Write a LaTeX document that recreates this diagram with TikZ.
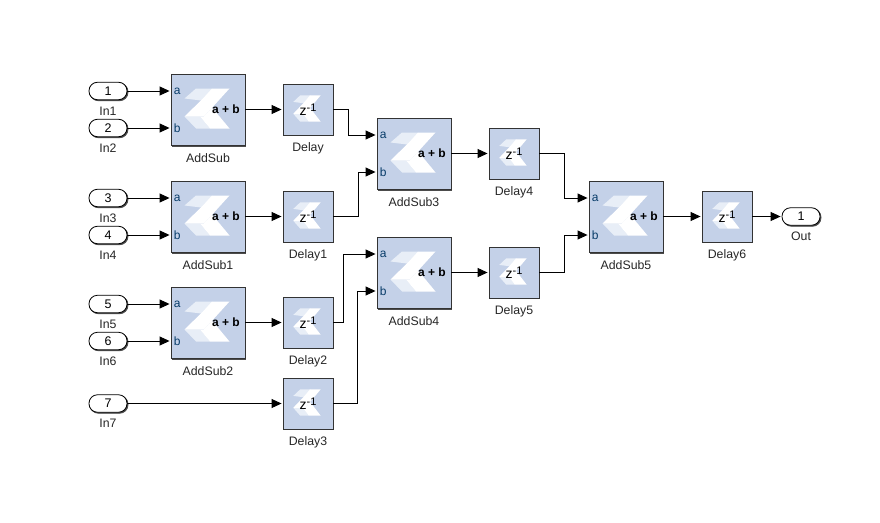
\documentclass[tikz,border=0pt]{standalone}
\usepackage{fontspec}
\setmainfont{Liberation Sans}
\usetikzlibrary{arrows.meta,calc}
\definecolor{blockfill}{RGB}{196,209,232}
\definecolor{logopale}{RGB}{232,238,247}
\definecolor{portblue}{RGB}{8,60,105}
\tikzset{
  blockbox/.style={draw=black!80,line width=0.9pt,fill=blockfill,inner sep=0pt},
  wire/.style={line width=0.9pt,-{Triangle[length=10pt,width=9pt]},shorten >=1pt},
  portnode/.style={draw=black,line width=0.8pt,fill=white,rounded corners=8.5pt,
    minimum width=38pt,minimum height=17.5pt,inner sep=0pt,font=\fontsize{12.5}{14}\selectfont},
  lbl/.style={font=\fontsize{12.3}{14}\selectfont,inner sep=0pt,text=black!85},
  pin/.style={font=\fontsize{12}{13}\selectfont,inner sep=0pt,text=portblue},
  sumtxt/.style={font=\fontsize{12}{14}\selectfont\bfseries,inner sep=0pt},
  ztxt/.style={font=\fontsize{14}{15}\selectfont,inner sep=0pt}
}
% logo centred on (0,0), in px
\newcommand{\xlogo}[4]{%
  \begin{scope}[shift={(#1)},xshift=#2pt,yshift=#2*-1pt,xscale=#3,yscale=#4]
    \fill[logopale] (-22.5,-10)--(-11,-20)--(5,-20)--(12,-10)--(4,0)--(-6,-8)--cycle;
    \fill[logopale] (-22.5,8)--(-11,20)--(3,20)--(-7,8)--cycle;
    \fill[white] (-22.5,8)--(-4,-10)--(5,-20)--(22.5,-20)--(-3,8)--cycle;
    \fill[white] (-3,8)--(5,-1)--(22.5,20)--(3,20)--(-7,8)--cycle;
  \end{scope}}
% name, x, y, label (centre coordinates)
\newcommand{\addsubblock}[4]{%
  \fill[black!70] ($(#2,#3)+(-36,-35)$) rectangle ($(#2,#3)+(38.2,37.2)$);
  \node[blockbox,minimum width=74pt,minimum height=71pt] (#1) at (#2,#3) {};
  \xlogo{#2,#3}{-1}{1}{1}
  \node[pin,anchor=west] (#1al) at ($(#1.west)+(3,-18.5)$) {a};
  \node[pin,anchor=west] (#1bl) at ($(#1.west)+(3,18.5)$) {b};
  \node[sumtxt,anchor=east] (#1s) at ($(#1.east)+(-5.5,0)$) {a + b};
  \coordinate (#1a) at ($(#1.west)+(0,-18.5)$);
  \coordinate (#1b) at ($(#1.west)+(0,18.5)$);
  \node[lbl] (#1t) at ($(#1.south)+(0,13)$) {#4};}
\newcommand{\delayblock}[4]{%
  \fill[black!70] ($(#2,#3)+(-24,-24.5)$) rectangle ($(#2,#3)+(26.2,26.7)$);
  \node[blockbox,minimum width=50pt,minimum height=51pt] (#1) at (#2,#3) {};
  \xlogo{#2,#3}{-1}{0.61}{0.66}
  \node[ztxt] (#1z) at (#2,#3) {z\raisebox{4.5pt}{\fontsize{11}{12}\selectfont -1}};
  \node[lbl] (#1t) at ($(#1.south)+(0,12.5)$) {#4};}
% name, x, y, number, label
\newcommand{\portblock}[5]{%
  \node[portnode,fill=black!70,draw=black!70] (#1sh) at ($(#2,#3)+(1,1)$) {};
  \node[portnode] (#1) at (#2,#3) {#4};
  \node[lbl] (#1t) at ($(#1.south)+(0,11)$) {#5};}
\begin{document}
\begin{tikzpicture}[x=1pt,y=-1pt]
\useasboundingbox (0,0) rectangle (880,522);
\fill[white] (0,0) rectangle (880,522);
\addsubblock{A}{208}{109.5}{AddSub}
\addsubblock{Aone}{208}{216.5}{AddSub1}
\addsubblock{Atwo}{208}{322.5}{AddSub2}
\addsubblock{Athree}{414}{153.5}{AddSub3}
\addsubblock{Afour}{414}{272.5}{AddSub4}
\addsubblock{Afive}{626}{216.5}{AddSub5}
\delayblock{D}{308}{109.5}{Delay}
\delayblock{Done}{308}{216.5}{Delay1}
\delayblock{Dtwo}{308}{322.5}{Delay2}
\delayblock{Dthree}{308}{403.5}{Delay3}
\delayblock{Dfour}{514}{153.5}{Delay4}
\delayblock{Dfive}{514}{272.5}{Delay5}
\delayblock{Dsix}{727}{216.5}{Delay6}
\portblock{Pone}{108}{91}{1}{In1}
\portblock{Ptwo}{108}{128}{2}{In2}
\portblock{Pthree}{108}{198}{3}{In3}
\portblock{Pfour}{108}{235}{4}{In4}
\portblock{Pfive}{108}{304}{5}{In5}
\portblock{Psix}{108}{341}{6}{In6}
\portblock{Pseven}{108}{403.5}{7}{In7}
\portblock{Out}{801}{216.5}{1}{Out}
\draw[wire] (Pone.east) -- (Aa);
\draw[wire] (Ptwo.east) -- (Ab);
\draw[wire] (Pthree.east) -- (Aonea);
\draw[wire] (Pfour.east) -- (Aoneb);
\draw[wire] (Pfive.east) -- (Atwoa);
\draw[wire] (Psix.east) -- (Atwob);
\draw[wire] (Pseven.east) -- (Dthree.west);
\draw[wire] (A.east) -- (D.west);
\draw[wire] (Aone.east) -- (Done.west);
\draw[wire] (Atwo.east) -- (Dtwo.west);
\draw[wire] (Athree.east) -- (Dfour.west);
\draw[wire] (Afour.east) -- (Dfive.west);
\draw[wire] (Afive.east) -- (Dsix.west);
\draw[wire] (Dsix.east) -- (Out.west);
\draw[wire] (D.east) -- ++(15,0) |- (Athreea);
\draw[wire] (Done.east) -- ++(25,0) |- (Athreeb);
\draw[wire] (Dtwo.east) -- ++(10,0) |- (Afoura);
\draw[wire] (Dthree.east) -- ++(24,0) |- (Afourb);
\draw[wire] (Dfour.east) -- ++(25,0) |- (Afivea);
\draw[wire] (Dfive.east) -- ++(25,0) |- (Afiveb);
\end{tikzpicture}
\end{document}
